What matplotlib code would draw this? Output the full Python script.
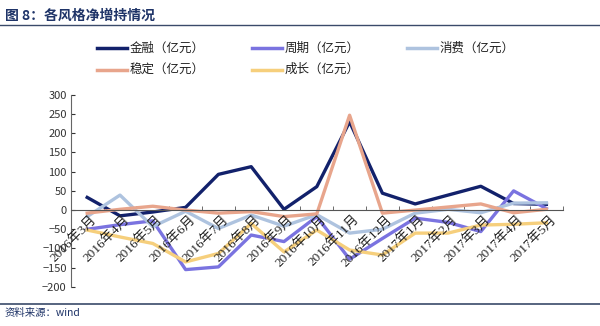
import matplotlib.pyplot as plt
from matplotlib.lines import Line2D
import numpy as np

plt.rcParams['font.family'] = ['Noto Sans CJK SC', 'DejaVu Sans']

months = ["2016年3月", "2016年4月", "2016年5月", "2016年6月", "2016年7月",
          "2016年8月", "2016年9月", "2016年10月", "2016年11月", "2016年12月",
          "2017年1月", "2017年2月", "2017年3月", "2017年4月", "2017年5月"]

jinrong = [33, -15, -5, 7, 93, 113, 2, 61, 230, 44, 16, 39, 62, 17, 15]
zhouqi = [-50, -38, -28, -155, -148, -65, -82, -17, -128, -74, -21, -32, -56, 50, 4]
xiaofei = [-17, 39, -43, -3, -48, -13, -42, -12, -60, -50, -8, 2, -7, 18, 19]
wending = [-8, 2, 10, 0, -8, -4, -17, -10, 247, -8, 0, 8, 16, -7, 2]
chengzhang = [-52, -70, -87, -135, -113, -35, -109, -52, -104, -117, -60, -60, -39, -37, -33]

series = [
    ("金融（亿元）", jinrong, "#12216b"),
    ("周期（亿元）", zhouqi, "#7a73e0"),
    ("消费（亿元）", xiaofei, "#aec3df"),
    ("稳定（亿元）", wending, "#e8a58c"),
    ("成长（亿元）", chengzhang, "#f6cf7c"),
]

fig = plt.figure(figsize=(6.0, 3.26), dpi=100)
ax = fig.add_axes([0.118, 0.120, 0.820, 0.589])

x = np.arange(len(months))
for name, vals, col in series:
    ax.plot(x, vals, color=col, lw=2.4, label=name)

ax.set_xlim(-0.5, len(months) - 0.5)
ax.set_ylim(-200, 300)
ax.set_yticks(range(-200, 301, 50))
ax.tick_params(axis='y', direction='in', length=3, labelsize=8,
               colors='#333333', pad=3)
ax.spines['left'].set_color('#666666')
ax.spines['top'].set_visible(False)
ax.spines['right'].set_visible(False)
ax.spines['bottom'].set_position(('data', 0))
ax.spines['bottom'].set_color('#555555')

ax.set_xticks(x)
ax.set_xticklabels([])
ax.set_xticks(np.arange(-0.5, len(months)), minor=True)
ax.tick_params(axis='x', which='major', length=0)
ax.tick_params(axis='x', which='minor', direction='in', length=3, color='#555555')
for i, m in enumerate(months):
    ax.text(i + 0.1, -8, m, rotation=45, ha='right', va='top',
            fontsize=9.5, family=['Liberation Serif', 'Noto Sans CJK SC'],
            color='#222222', rotation_mode='anchor')

# legend (drawn by hand in figure coordinates)
leg_pos = [(0.162, 0.853), (0.420, 0.853), (0.678, 0.853),
           (0.162, 0.786), (0.420, 0.786)]
for (lx, ly), (name, vals, col) in zip(leg_pos, series):
    fig.add_artist(Line2D([lx, lx + 0.050], [ly, ly], color=col, lw=2.5,
                          transform=fig.transFigure))
    fig.text(lx + 0.054, ly, name, fontsize=9, va='center', color='#222222')

fig.text(0.008, 0.952, "图 8：各风格净增持情况", fontsize=10, fontweight='bold',
         color='#1f3468', va='center')
fig.add_artist(Line2D([0.0, 1.0], [0.922, 0.922], color='#3a4a6a', lw=1.0,
                      transform=fig.transFigure))
fig.add_artist(Line2D([0.0, 1.0], [0.067, 0.067], color='#3a4a6a', lw=1.2,
                      transform=fig.transFigure))
fig.text(0.008, 0.040, "资料来源：wind", fontsize=7.5, style='italic',
         color='#1f3468', va='center')

fig.savefig("out.png", dpi=100)
